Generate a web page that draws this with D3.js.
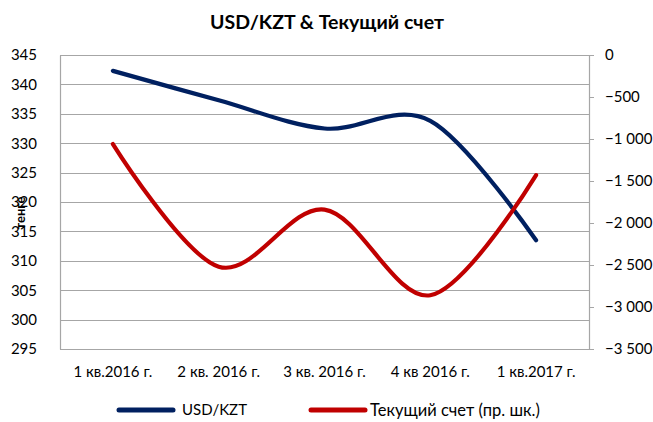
<!DOCTYPE html>
<html>
<head>
<meta charset="utf-8">
<script src="https://cdn.jsdelivr.net/npm/d3@7"></script>
<style>
  body { margin: 0; background: #fff; }
  svg text { font-family: Lato, "Open Sans", sans-serif; fill: #000; }
</style>
</head>
<body>
<div id="chart"></div>
<script>
// data
var quarters = ["1 кв.2016 г.", "2 кв. 2016 г.", "3 кв. 2016 г.", "4 кв 2016 г.", "1 кв.2017 г."];
var usdKzt = [342.3, 337.3, 332.5, 333.8, 313.5];
var currentAccount = [-1060, -2520, -1840, -2860, -1430];
var leftTicks = [295, 300, 305, 310, 315, 320, 325, 330, 335, 340, 345];
var rightTicks = [0, -500, -1000, -1500, -2000, -2500, -3000, -3500];
var seriesNames = ["USD/KZT", "Текущий счет (пр. шк.)"];

var outerWidth = 653, outerHeight = 422;
var margin = {top: 55, right: 64, bottom: 73, left: 60},
    width = outerWidth - margin.left - margin.right,
    height = outerHeight - margin.top - margin.bottom;

var svg = d3.select("#chart").append("svg")
    .attr("width", outerWidth)
    .attr("height", outerHeight);

var g = svg.append("g")
    .attr("transform", "translate(" + margin.left + "," + margin.top + ")");

//////// SCALES ////////
var xScale = d3.scaleBand()
    .domain(quarters)
    .range([0, width]);

var yLeft = d3.scaleLinear()
    .domain([295, 345])
    .range([height, 0]);

var yRight = d3.scaleLinear()
    .domain([-3500, 0])
    .range([height, 0]);

var fmt = function(v) { return d3.format(",")(v).replace(/,/g, " "); };

// gridlines
g.append("g")
    .selectAll("line")
    .data(leftTicks)
    .enter().append("line")
        .attr("x1", 0)
        .attr("x2", width)
        .attr("y1", function(d) { return Math.round(yLeft(d)) + 0.5; })
        .attr("y2", function(d) { return Math.round(yLeft(d)) + 0.5; })
        .attr("stroke", "#a6a6a6")
        .attr("stroke-width", 1.2);

// left axis
var leftAxis = g.append("g")
    .call(d3.axisLeft(yLeft).tickValues(leftTicks).tickSize(0).tickPadding(23));
leftAxis.select(".domain").attr("stroke", "#a6a6a6").attr("stroke-width", 1.2);
leftAxis.selectAll("text").style("font-size", "15px");

// right axis
var rightAxis = g.append("g")
    .attr("transform", "translate(" + width + ",0)")
    .call(d3.axisRight(yRight).tickValues(rightTicks).tickFormat(fmt).tickSize(5).tickPadding(11));
rightAxis.select(".domain").attr("stroke", "#a6a6a6").attr("stroke-width", 1.2);
rightAxis.selectAll("line").attr("stroke", "#a6a6a6");
rightAxis.selectAll("text").style("font-size", "15px");

// bottom axis
var xAxis = g.append("g")
    .attr("transform", "translate(0," + height + ")")
    .call(d3.axisBottom(xScale).tickSize(0).tickPadding(17));
xAxis.select(".domain").attr("stroke", "#a6a6a6").attr("stroke-width", 1.2);
xAxis.selectAll("text").style("font-size", "15px");

// lines
var cx = function(d, i) { return xScale(quarters[i]) + xScale.bandwidth() / 2; };

var lineLeft = d3.line()
    .x(cx)
    .y(function(d) { return yLeft(d); })
    .curve(d3.curveCardinal.tension(0));

var lineRight = d3.line()
    .x(cx)
    .y(function(d) { return yRight(d); })
    .curve(d3.curveCardinal.tension(0));

g.append("path")
    .datum(usdKzt)
    .attr("d", lineLeft)
    .attr("fill", "none")
    .attr("stroke", "#002060")
    .attr("stroke-width", 4.2)
    .attr("stroke-linecap", "round");

g.append("path")
    .datum(currentAccount)
    .attr("d", lineRight)
    .attr("fill", "none")
    .attr("stroke", "#c00000")
    .attr("stroke-width", 4.2)
    .attr("stroke-linecap", "round");

// title
svg.append("text")
    .attr("x", 327)
    .attr("y", 29)
    .attr("text-anchor", "middle")
    .style("font-size", "19.5px")
    .style("font-weight", "bold")
    .text("USD/KZT & Текущий счет");

// y title
svg.append("text")
    .attr("transform", "translate(25,213) rotate(-90)")
    .attr("text-anchor", "middle")
    .style("font-size", "13px")
    .style("font-weight", "bold")
    .text("тенге");

// legend
var legend = svg.append("g")
    .attr("transform", "translate(0,410)");

var legendItems = [
    {name: seriesNames[0], color: "#002060", x: 119},
    {name: seriesNames[1], color: "#c00000", x: 311}
];

var li = legend.selectAll("g")
    .data(legendItems)
    .enter().append("g")
        .attr("transform", function(d) { return "translate(" + d.x + ",0)"; });

li.append("line")
    .attr("x1", 0)
    .attr("x2", 54)
    .attr("stroke", function(d) { return d.color; })
    .attr("stroke-width", 5)
    .attr("stroke-linecap", "round");

li.append("text")
    .attr("x", function(d, i) { return i === 0 ? 63 : 59; })
    .attr("dy", "0.35em")
    .style("font-size", function(d, i) { return i === 0 ? "15px" : "16.5px"; })
    .text(function(d) { return d.name; });
</script>
</body>
</html>
